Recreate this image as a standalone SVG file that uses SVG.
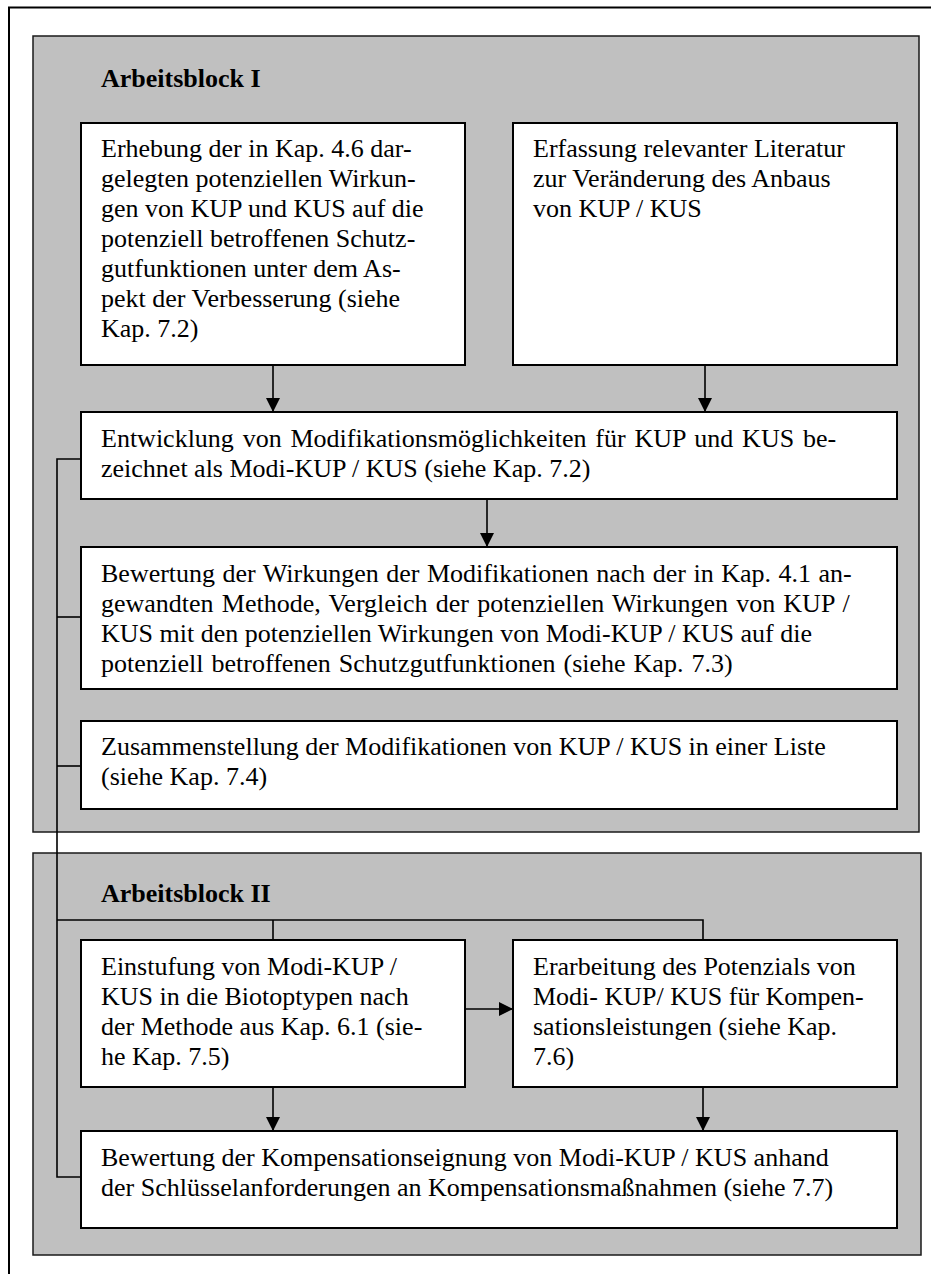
<svg xmlns="http://www.w3.org/2000/svg" width="931" height="1274" viewBox="0 0 931 1274">
<defs>
<style>
.block{fill:#C0C0C0;stroke:#1a1a1a;stroke-width:1.5}
.box{fill:#FFFFFF;stroke:#000;stroke-width:2}
.t{font-family:"Liberation Serif","Times New Roman",serif;font-size:26px;fill:#000}
.h{font-family:"Liberation Serif","Times New Roman",serif;font-size:26px;font-weight:bold;fill:#000}
.c{fill:none;stroke:#000;stroke-width:1.6}
.a{fill:none;stroke:#000;stroke-width:1.6;marker-end:url(#arr)}
</style>
<marker id="arr" markerUnits="userSpaceOnUse" markerWidth="16" markerHeight="16" refX="14" refY="7" orient="auto">
<path d="M0,0 L14,7 L0,14 z" fill="#000"/>
</marker>
</defs>
<rect width="931" height="1274" fill="#FFFFFF"/>
<g id="frame">
<path d="M9,1274 L9,7.5 L931,7.5" fill="none" stroke="#000" stroke-width="2"/>
</g>
<g id="block1">
<rect class="block" x="33" y="36" width="886" height="796"/>
<text class="h" x="101" y="87">Arbeitsblock I</text>
</g>
<g id="block2">
<rect class="block" x="33" y="853" width="888" height="402"/>
<text class="h" x="101" y="902">Arbeitsblock II</text>
</g>
<g id="connectors">
<path class="c" d="M81,459 L57,459 L57,1177 L81,1177"/>
<path class="c" d="M57,617 L81,617"/>
<path class="c" d="M57,766 L81,766"/>
<path class="c" d="M57,920 L703,920 L703,940"/>
<path class="c" d="M273,920 L273,940"/>
<path class="a" d="M273,365 L273,412"/>
<path class="a" d="M705,365 L705,412"/>
<path class="a" d="M487,499 L487,547"/>
<path class="a" d="M465,1009 L513,1009"/>
<path class="a" d="M273,1087 L273,1131"/>
<path class="a" d="M703,1087 L703,1131"/>
</g>
<g id="n1">
<rect class="box" x="81" y="123" width="384" height="242"/>
<text class="t"><tspan x="101" y="157">Erhebung der in Kap. 4.6 dar-</tspan><tspan x="101" y="187">gelegten potenziellen Wirkun-</tspan><tspan x="101" y="217">gen von KUP und KUS auf die</tspan><tspan x="101" y="247">potenziell betroffenen Schutz-</tspan><tspan x="101" y="277">gutfunktionen unter dem As-</tspan><tspan x="101" y="307">pekt der Verbesserung (siehe</tspan><tspan x="101" y="337">Kap. 7.2)</tspan></text>
</g>
<g id="n2">
<rect class="box" x="513" y="123" width="384" height="242"/>
<text class="t"><tspan x="533" y="157">Erfassung relevanter Literatur</tspan><tspan x="533" y="187">zur Veränderung des Anbaus</tspan><tspan x="533" y="217">von KUP / KUS</tspan></text>
</g>
<g id="n3">
<rect class="box" x="81" y="412" width="816" height="87"/>
<text class="t"><tspan x="101" y="447" word-spacing="2.3">Entwicklung von Modifikationsmöglichkeiten für KUP und KUS be-</tspan><tspan x="101" y="477">zeichnet als Modi-KUP / KUS (siehe Kap. 7.2)</tspan></text>
</g>
<g id="n4">
<rect class="box" x="81" y="547" width="816" height="142"/>
<text class="t"><tspan x="101" y="582" word-spacing="1">Bewertung der Wirkungen der Modifikationen nach der in Kap. 4.1 an-</tspan><tspan x="101" y="612" word-spacing="1.7">gewandten Methode, Vergleich der potenziellen Wirkungen von KUP /</tspan><tspan x="101" y="642">KUS mit den potenziellen Wirkungen von Modi-KUP / KUS auf die</tspan><tspan x="101" y="672" word-spacing="1.5">potenziell betroffenen Schutzgutfunktionen (siehe Kap. 7.3)</tspan></text>
</g>
<g id="n5">
<rect class="box" x="81" y="721" width="816" height="88"/>
<text class="t"><tspan x="101" y="755">Zusammenstellung der Modifikationen von KUP / KUS in einer Liste</tspan><tspan x="101" y="785">(siehe Kap. 7.4)</tspan></text>
</g>
<g id="n6">
<rect class="box" x="81" y="940" width="384" height="147"/>
<text class="t"><tspan x="101" y="975">Einstufung von Modi-KUP /</tspan><tspan x="101" y="1005">KUS in die Biotoptypen nach</tspan><tspan x="101" y="1035">der Methode aus Kap. 6.1 (sie-</tspan><tspan x="101" y="1065">he Kap. 7.5)</tspan></text>
</g>
<g id="n7">
<rect class="box" x="513" y="940" width="384" height="147"/>
<text class="t"><tspan x="533" y="975">Erarbeitung des Potenzials von</tspan><tspan x="533" y="1005">Modi- KUP/ KUS für Kompen-</tspan><tspan x="533" y="1035">sationsleistungen (siehe Kap.</tspan><tspan x="533" y="1065">7.6)</tspan></text>
</g>
<g id="n8">
<rect class="box" x="81" y="1131" width="816" height="97"/>
<text class="t"><tspan x="101" y="1166">Bewertung der Kompensationseignung von Modi-KUP / KUS anhand</tspan><tspan x="101" y="1196">der Schlüsselanforderungen an Kompensationsmaßnahmen (siehe 7.7)</tspan></text>
</g>
</svg>
